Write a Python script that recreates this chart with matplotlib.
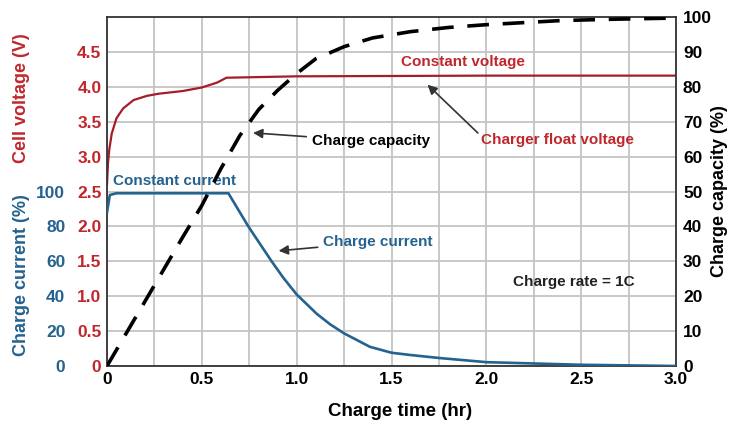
import matplotlib.pyplot as plt
import numpy as np

time_v = [0, 0.005, 0.012, 0.025, 0.05, 0.085, 0.14, 0.21, 0.27, 0.4, 0.5, 0.58, 0.63, 1.0, 2.0, 3.0]
voltage = [2.6, 2.9, 3.1, 3.33, 3.55, 3.69, 3.81, 3.87, 3.9, 3.94, 3.99, 4.06, 4.13, 4.15, 4.16, 4.16]

time_i = [0, 0.015, 0.05, 0.3, 0.64, 0.745, 0.868, 0.93, 1.0, 1.105, 1.175, 1.25, 1.386, 1.5, 1.6,
          1.75, 2.0, 2.5, 3.0]
current = [88, 98, 99, 99, 99, 80, 60, 50.5, 41, 30, 24, 18.7, 11, 7.6, 6.3, 4.6, 2.2, 0.7, 0]

time_c = [0, 0.2, 0.4, 0.5, 0.6, 0.7, 0.8, 0.9, 1.0, 1.1, 1.25, 1.4, 1.6, 1.8, 2.0, 2.4, 2.7, 3.0]
capacity = [0, 18.5, 37, 46, 56.5, 66, 73.5, 79, 83.8, 88, 91.5, 94, 95.8, 97, 97.8, 99, 99.4, 99.7]

volt_ticks = [0, 0.5, 1.0, 1.5, 2.0, 2.5, 3.0, 3.5, 4.0, 4.5]
volt_labels = ['0', '0.5', '1.0', '1.5', '2.0', '2.5', '3.0', '3.5', '4.0', '4.5']
curr_ticks = [0, 20, 40, 60, 80, 100]
cap_ticks = list(range(0, 101, 10))
time_ticks = [0, 0.5, 1.0, 1.5, 2.0, 2.5, 3.0]
time_labels = ['0', '0.5', '1.0', '1.5', '2.0', '2.5', '3.0']

RED = '#c0272d'
RED_LINE = '#a51d27'
BLUE = '#24628f'
GRID = '#c4c4c4'

plt.rcParams['font.family'] = ['Liberation Sans', 'DejaVu Sans']
plt.rcParams['font.weight'] = 'bold'

fig = plt.figure(figsize=(7.35, 4.24), dpi=100)
ax = fig.add_axes([107 / 735, 1 - 366 / 424, 569 / 735, 349 / 424])

ax.set_xlim(0, 3.0)
ax.set_ylim(0, 5.0)
ax.set_xticks(time_ticks)
ax.set_xticklabels(time_labels)
ax.set_xticks(np.arange(0.25, 3.0, 0.5), minor=True)
ax.grid(True, which='both', color=GRID, linewidth=1.3)
ax.grid(False, which='minor', axis='y')
ax.set_axisbelow(True)
ax.set_yticks(volt_ticks)
ax.set_yticklabels(volt_labels)
ax.tick_params(axis='y', length=0, pad=4, labelsize=12.5, labelcolor=RED)
ax.tick_params(axis='x', which='both', length=0, pad=4, labelsize=12.5)
for s in ax.spines.values():
    s.set_color('#333333')
    s.set_linewidth(1.3)

# current axis (0..200 % so that 100 % sits at 2.5 V)
ax3 = ax.twinx()
ax3.set_ylim(0, 200)
ax3.yaxis.set_ticks_position('left')
ax3.spines['left'].set_position(('outward', 26))
for s in ax3.spines.values():
    s.set_visible(False)
ax3.set_yticks(curr_ticks)
ax3.tick_params(axis='y', length=0, pad=4, labelsize=12.5, labelcolor=BLUE)

# capacity axis
ax2 = ax.twinx()
ax2.set_ylim(0, 100)
ax2.set_yticks(cap_ticks)
ax2.tick_params(axis='y', length=0, pad=5, labelsize=12.5)
for s in ax2.spines.values():
    s.set_visible(False)

ax.plot(time_v, voltage, color=RED_LINE, linewidth=1.6)
ax3.plot(time_i, current, color=BLUE, linewidth=1.9)
ax2.plot(time_c, capacity, color='black', linewidth=2.6, dashes=(6, 3.8))

# annotations
ax.text(0.03, 2.65, 'Constant current', color=BLUE, fontsize=11, va='center')
ax.text(1.55, 4.36, 'Constant voltage', color=RED, fontsize=11, va='center')
ax.annotate('Charge capacity', xy=(0.77, 3.34), xytext=(1.08, 3.22),
            fontsize=11, va='center', color='black',
            arrowprops=dict(arrowstyle='-|>', color='#333333', lw=1.2,
                            mutation_scale=14, shrinkA=2, shrinkB=0))
ax.annotate('Charger float voltage', xy=(1.69, 4.03), xytext=(1.97, 3.24),
            fontsize=11, va='center', color=RED,
            arrowprops=dict(arrowstyle='-|>', color='#333333', lw=1.2,
                            mutation_scale=14, shrinkA=0, shrinkB=0,
                            relpos=(0, 0.8)))
ax.annotate('Charge current', xy=(0.905, 1.65), xytext=(1.14, 1.78),
            fontsize=11, va='center', color=BLUE,
            arrowprops=dict(arrowstyle='-|>', color='#333333', lw=1.2,
                            mutation_scale=14, shrinkA=2, shrinkB=0))
ax.text(2.46, 1.2, 'Charge rate = 1C', color='#222222', fontsize=11,
        ha='center', va='center')

fig.text(22 / 735, 1 - 98 / 424, 'Cell voltage (V)', rotation=90, color=RED,
         fontsize=13, ha='center', va='center')
fig.text(22 / 735, 1 - 275 / 424, 'Charge current (%)', rotation=90, color=BLUE,
         fontsize=13, ha='center', va='center')
fig.text(720 / 735, 1 - 191 / 424, 'Charge capacity (%)', rotation=90,
         fontsize=13, ha='center', va='center')
fig.text(400 / 735, 1 - 411 / 424, 'Charge time (hr)', fontsize=13.5,
         ha='center', va='center')

fig.savefig('out.png', dpi=100)
